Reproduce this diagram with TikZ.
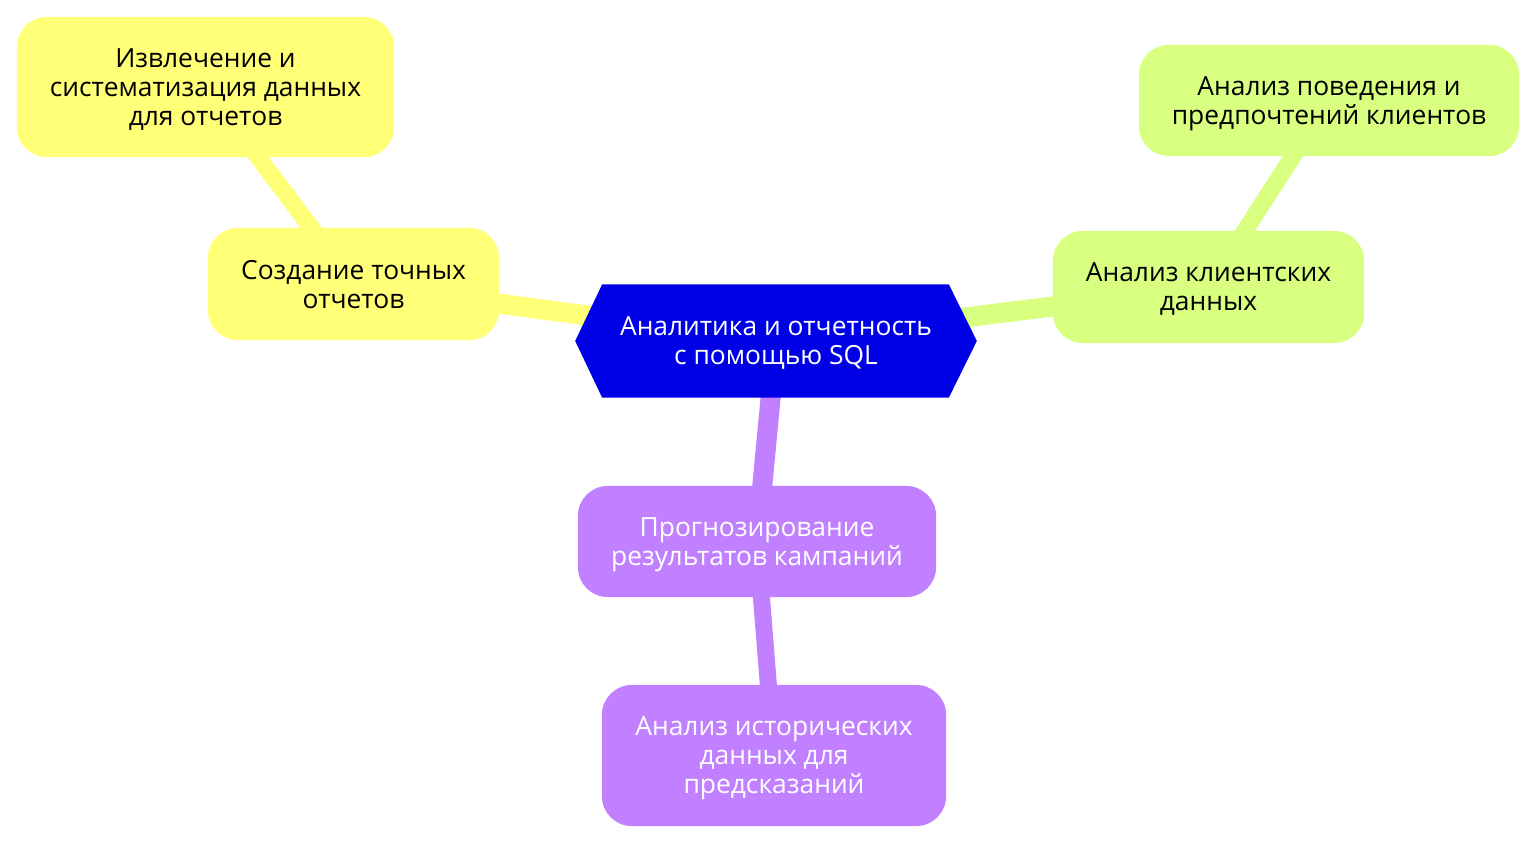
\documentclass[tikz,border=0pt]{standalone}
\usepackage{fontspec}
\setmainfont{Open Sans}
\usetikzlibrary{positioning,backgrounds}
\definecolor{rootblue}{RGB}{0,0,230}
\definecolor{secyellow}{RGB}{255,255,120}
\definecolor{secgreen}{RGB}{216,255,128}
\definecolor{secpurple}{RGB}{192,128,255}
\begin{document}
\begin{tikzpicture}[x=0.01cm,y=-0.01cm,
  txt/.style={align=center, inner sep=0pt, text depth=0pt, font=\fontsize{7.5}{8.25}\selectfont},
  box/.style={txt, rounded corners=8.5pt},
  link/.style={line width=0.2cm},
  sublink/.style={line width=0.17cm}]
  \useasboundingbox (0,0) rectangle (1536,843);
  % centre
  \node[txt, text=white, minimum width=4cm, minimum height=1.12cm]
    (root) at (776,341) {Аналитика и отчетность\\с помощью SQL};
  % yellow branch
  \node[box, fill=secyellow, minimum width=2.91cm, minimum height=1.12cm]
    (rep) at (353.5,284) {Создание точных\\отчетов};
  \node[box, fill=secyellow, minimum width=3.77cm, minimum height=1.40cm]
    (extr) at (205.5,87) {Извлечение и\\систематизация данных\\для отчетов};
  % green branch
  \node[box, fill=secgreen, minimum width=3.11cm, minimum height=1.12cm]
    (cli) at (1208.5,287) {Анализ клиентских\\данных};
  \node[box, fill=secgreen, minimum width=3.80cm, minimum height=1.11cm]
    (pref) at (1329,100.5) {Анализ поведения и\\предпочтений клиентов};
  % purple branch
  \node[box, fill=secpurple, text=white, minimum width=3.58cm, minimum height=1.11cm]
    (fore) at (757,541.5) {Прогнозирование\\результатов кампаний};
  \node[box, fill=secpurple, text=white, minimum width=3.44cm, minimum height=1.41cm]
    (hist) at (774,755.5) {Анализ исторических\\данных для\\предсказаний};
  \begin{scope}[on background layer]
    \draw[link, secyellow](root.center)--(rep.center);
    \draw[sublink, secyellow](rep.center)--(extr.center);
    \draw[link, secgreen](root.center)--(cli.center);
    \draw[sublink, secgreen](cli.center)--(pref.center);
    \draw[link, secpurple](root.center)--(fore.center);
    \draw[sublink, secpurple](fore.center)--(hist.center);
    \fill[rootblue]([xshift=0.27cm]root.north west)--([xshift=-0.28cm]root.north east)
      --(root.east)--([xshift=-0.28cm]root.south east)
      --([xshift=0.27cm]root.south west)--(root.west)--cycle;
  \end{scope}
\end{tikzpicture}
\end{document}
